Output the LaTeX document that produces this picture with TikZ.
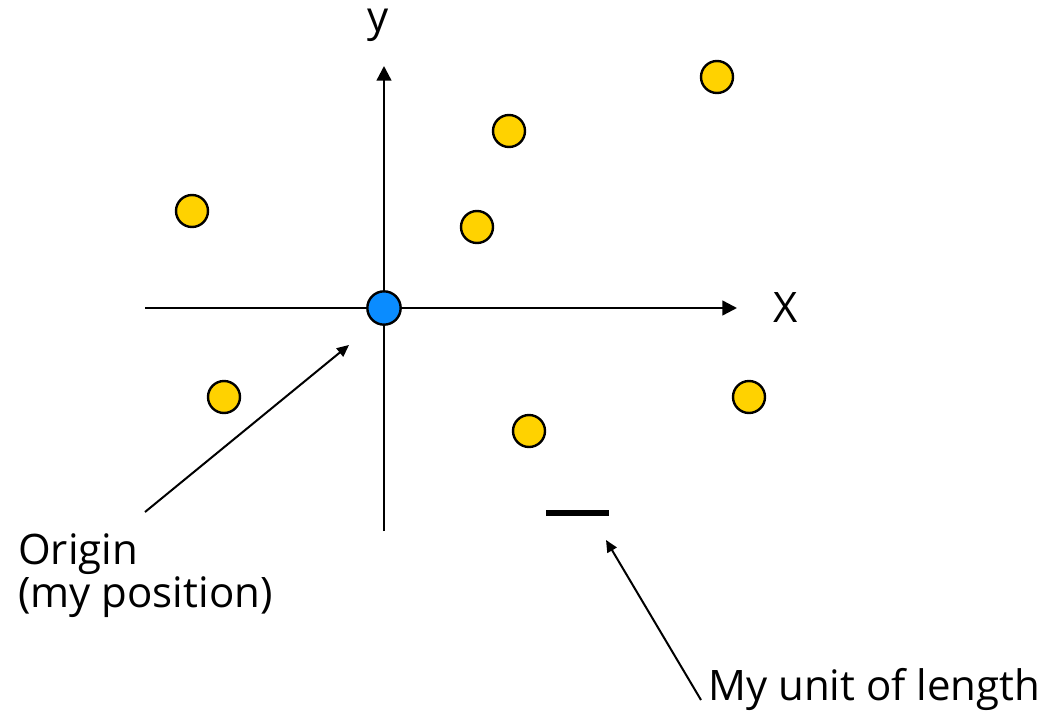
\documentclass[tikz,border=0pt]{standalone}
\usepackage{fontspec}
\setmainfont{Open Sans}
\usepackage{tikz}
\usetikzlibrary{arrows.meta,positioning}
\definecolor{sun}{HTML}{FFD200}
\definecolor{sky}{HTML}{0A8CFF}
\definecolor{ink}{HTML}{000000}
\tikzset{
  axis/.style={draw=ink,line width=1.8pt,-{Triangle[length=11pt,width=11pt]}},
  pointer/.style={draw=ink,line width=1.5pt,-{Triangle[length=9pt,width=8pt]}},
  dot/.style={circle,draw=ink,line width=1.8pt,fill=sun,minimum size=24pt,inner sep=0pt},
  origindot/.style={dot,fill=sky,minimum size=25pt},
  lbl/.style={font=\fontsize{31.5}{32}\selectfont,text=ink,inner sep=0pt}
}
\begin{document}
\begin{tikzpicture}[x=0.75pt,y=-0.75pt]
\useasboundingbox (0,0) rectangle (1059,710);
% axes
\coordinate (xl) at (145,308); \coordinate (xr) at (737,308);
\coordinate (yb) at (384,531); \coordinate (yt) at (384,66);
\draw[axis] (xl) -- (xr);
\draw[axis] (yb) -- (yt);
\node[lbl,anchor=base] (xlab) at (786,322) {X};
\node[lbl,anchor=base] (ylab) at (378,32) {y};
% points
\node[origindot] (o) at (384,308) {};
\node[dot] (p1) at (717,77) {};
\node[dot] (p2) at (509,131) {};
\node[dot] (p3) at (192,211) {};
\node[dot] (p4) at (477,227) {};
\node[dot] (p5) at (224,397) {};
\node[dot] (p6) at (749,397) {};
\node[dot] (p7) at (529,431) {};
% unit of length
\coordinate (ua) at (546,513); \coordinate (ub) at (609,513);
\draw[ink,line width=4pt] (ua) -- (ub);
% labels and pointers
\node[lbl,align=left,anchor=base west] (origlab) at (18,607) {Origin\\(my position)};
\node[lbl,anchor=base west] (unitlab) at (708,700) {My unit of length};
\coordinate (otail) at (145,512); \coordinate (ohead) at (349,345);
\coordinate (utail) at (701,700); \coordinate (uhead) at (606,540);
\draw[pointer] (otail) -- (ohead);
\draw[pointer] (utail) -- (uhead);
\end{tikzpicture}
\end{document}
